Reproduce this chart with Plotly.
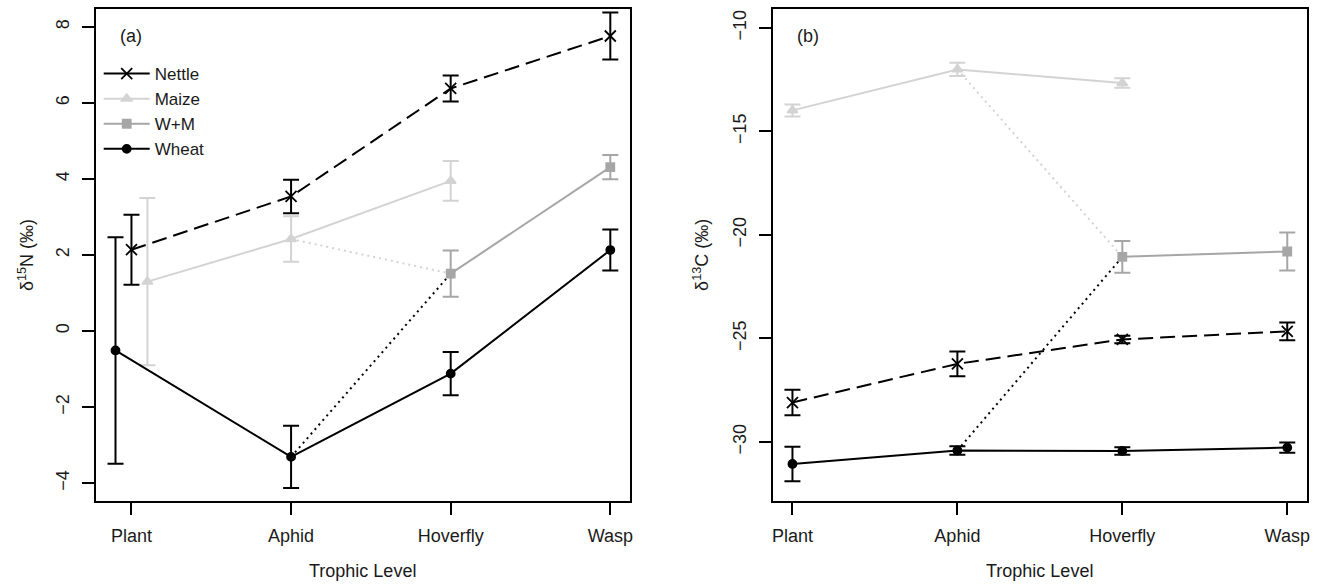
import plotly.graph_objects as go

# ---------------- data ----------------
levels = ["Plant", "Aphid", "Hoverfly", "Wasp"]

# Panel (a): delta 15N
nettle_n = [2.14, 3.54, 6.38, 7.76]
nettle_n_se = [0.92, 0.44, 0.34, 0.62]
maize_n = [1.30, 2.42, 3.95]
maize_n_se = [2.20, 0.60, 0.52]
wm_n = [1.51, 4.31]
wm_n_se = [0.61, 0.32]
wheat_n = [-0.51, -3.31, -1.12, 2.13]
wheat_n_se = [2.98, 0.82, 0.57, 0.54]

# Panel (b): delta 13C
nettle_c = [-28.10, -26.23, -25.05, -24.66]
nettle_c_se = [0.62, 0.60, 0.18, 0.43]
maize_c = [-13.98, -12.00, -12.66]
maize_c_se = [0.29, 0.32, 0.23]
wm_c = [-21.06, -20.80]
wm_c_se = [0.77, 0.92]
wheat_c = [-31.07, -30.42, -30.44, -30.28]
wheat_c_se = [0.83, 0.21, 0.18, 0.25]

maize_levels = levels[:3]
wm_levels = levels[2:]

# ---------------- styling ----------------
W, H = 1324, 586
FONT = "Liberation Sans, Arial, sans-serif"
FS = 18
LEG_FS = 17
TXT = "#1a1a1a"
BLACK = "#000000"
MAIZE_COL = "#D3D3D3"
WM_COL = "#A6A6A6"
DASH = "15px,7px"
DOT = "2px,4px"


def px(x):   # page x pixel -> paper fraction
    return x / W


def py(y):   # page y pixel -> paper fraction
    return (H - y) / H


pos = {lv: i + 1 for i, lv in enumerate(levels)}
# plant-level dodge used in panel (a) only
dodge_a = {"Wheat": -0.1, "Nettle": 0.0, "Maize": 0.1, "W+M": 0.0}
dodge_b = {"Wheat": 0.0, "Nettle": 0.0, "Maize": 0.0, "W+M": 0.0}


def xs(lvls, name, dodge):
    return [pos[l] + (dodge[name] if l == "Plant" else 0.0) for l in lvls]


fig = go.Figure()


def add_series(lvls, vals, errs, name, color, dash, symbol, msize, dodge, xa, ya):
    fig.add_trace(go.Scatter(
        x=xs(lvls, name, dodge), y=vals, mode="lines+markers",
        line=dict(color=color, width=2, dash=dash),
        marker=dict(color=color, symbol=symbol, size=msize,
                    line=dict(color=color, width=1.8)),
        error_y=dict(type="data", array=errs, visible=True, color=color,
                     thickness=2, width=8),
        xaxis=xa, yaxis=ya, showlegend=False, name=name))


def add_connector(l0, v0, n0, l1, v1, n1, color, dodge, xa, ya):
    fig.add_trace(go.Scatter(
        x=[xs([l0], n0, dodge)[0], xs([l1], n1, dodge)[0]], y=[v0, v1],
        mode="lines", line=dict(color=color, width=2, dash=DOT),
        xaxis=xa, yaxis=ya, showlegend=False, hoverinfo="skip"))


for (nv, ns, mv, ms, wv, ws, hv, hs, dodge, xa, ya) in [
    (nettle_n, nettle_n_se, maize_n, maize_n_se, wm_n, wm_n_se, wheat_n, wheat_n_se, dodge_a, "x", "y"),
    (nettle_c, nettle_c_se, maize_c, maize_c_se, wm_c, wm_c_se, wheat_c, wheat_c_se, dodge_b, "x2", "y2"),
]:
    add_connector("Aphid", mv[1], "Maize", "Hoverfly", wv[0], "W+M", MAIZE_COL, dodge, xa, ya)
    add_connector("Aphid", hv[1], "Wheat", "Hoverfly", wv[0], "W+M", BLACK, dodge, xa, ya)
    add_series(maize_levels, mv, ms, "Maize", MAIZE_COL, "solid", "triangle-up", 9, dodge, xa, ya)
    add_series(wm_levels, wv, ws, "W+M", WM_COL, "solid", "square", 8, dodge, xa, ya)
    add_series(levels, hv, hs, "Wheat", BLACK, "solid", "circle", 8, dodge, xa, ya)
    add_series(levels, nv, ns, "Nettle", BLACK, DASH, "x-thin-open", 11, dodge, xa, ya)

# legend entries (solid lines, as in the reference key)
for name, color, symbol, msize in [("Nettle", BLACK, "x-thin-open", 11),
                                   ("Maize", MAIZE_COL, "triangle-up", 9),
                                   ("W+M", WM_COL, "square", 8),
                                   ("Wheat", BLACK, "circle", 8)]:
    fig.add_trace(go.Scatter(
        x=[None], y=[None], mode="lines+markers", name=name,
        line=dict(color=color, width=2),
        marker=dict(color=color, symbol=symbol, size=msize, line=dict(color=color, width=1.8)),
        xaxis="x", yaxis="y", showlegend=True))

ydom = [py(501), py(9)]
axis_common = dict(showline=True, linecolor=BLACK, linewidth=1.5, mirror=True,
                   ticks="outside", ticklen=12, tickwidth=1.5, tickcolor=BLACK,
                   showgrid=False, zeroline=False,
                   tickfont=dict(family=FONT, size=FS, color=TXT))

fig.update_layout(
    width=W, height=H, margin=dict(l=0, r=0, t=0, b=0),
    paper_bgcolor="white", plot_bgcolor="white",
    font=dict(family=FONT, size=FS, color=TXT),
    xaxis=dict(domain=[px(95), px(631)], range=[0.776, 4.124],
               tickvals=[pos[l] for l in levels], ticktext=levels,
               ticklabelstandoff=6, **axis_common),
    yaxis=dict(domain=ydom, range=[-4.47, 8.47], tickvals=[-4, -2, 0, 2, 4, 6, 8],
               tickangle=-90, ticklabelstandoff=6, **axis_common),
    xaxis2=dict(domain=[px(774), px(1310)], range=[0.88, 4.12],
                tickvals=[pos[l] for l in levels], ticktext=levels,
                ticklabelstandoff=6, anchor="y2", **axis_common),
    yaxis2=dict(domain=ydom, range=[-32.86, -9.08], tickvals=[-30, -25, -20, -15, -10],
                tickangle=-90, ticklabelstandoff=6, anchor="x2", **axis_common),
    legend=dict(x=px(98), y=py(56), xanchor="left", yanchor="top",
                bgcolor="rgba(0,0,0,0)", borderwidth=0,
                font=dict(family=FONT, size=LEG_FS, color=TXT),
                tracegroupgap=0, itemwidth=46),
    annotations=[
        dict(text="(a)", x=px(117), y=py(36), xref="paper", yref="paper",
             xanchor="left", yanchor="middle", showarrow=False, font=dict(size=FS)),
        dict(text="(b)", x=px(796), y=py(36), xref="paper", yref="paper",
             xanchor="left", yanchor="middle", showarrow=False, font=dict(size=FS)),
        dict(text="Trophic Level", x=px(363), y=py(571), xref="paper", yref="paper",
             xanchor="center", yanchor="middle", showarrow=False, font=dict(size=FS)),
        dict(text="Trophic Level", x=px(1042), y=py(571), xref="paper", yref="paper",
             xanchor="center", yanchor="middle", showarrow=False, font=dict(size=FS)),
        dict(text="δ<sup>15</sup>N (‰)", x=px(25), y=py(255), xref="paper", yref="paper",
             xanchor="center", yanchor="middle", showarrow=False, textangle=-90,
             font=dict(size=FS)),
        dict(text="δ<sup>13</sup>C (‰)", x=px(702), y=py(255), xref="paper", yref="paper",
             xanchor="center", yanchor="middle", showarrow=False, textangle=-90,
             font=dict(size=FS)),
    ],
)

# remove the default 8px page margin so the figure fills the window exactly
fig.write_html("out.html", config={"displayModeBar": False},
               post_script="document.body.style.margin='0px';")
